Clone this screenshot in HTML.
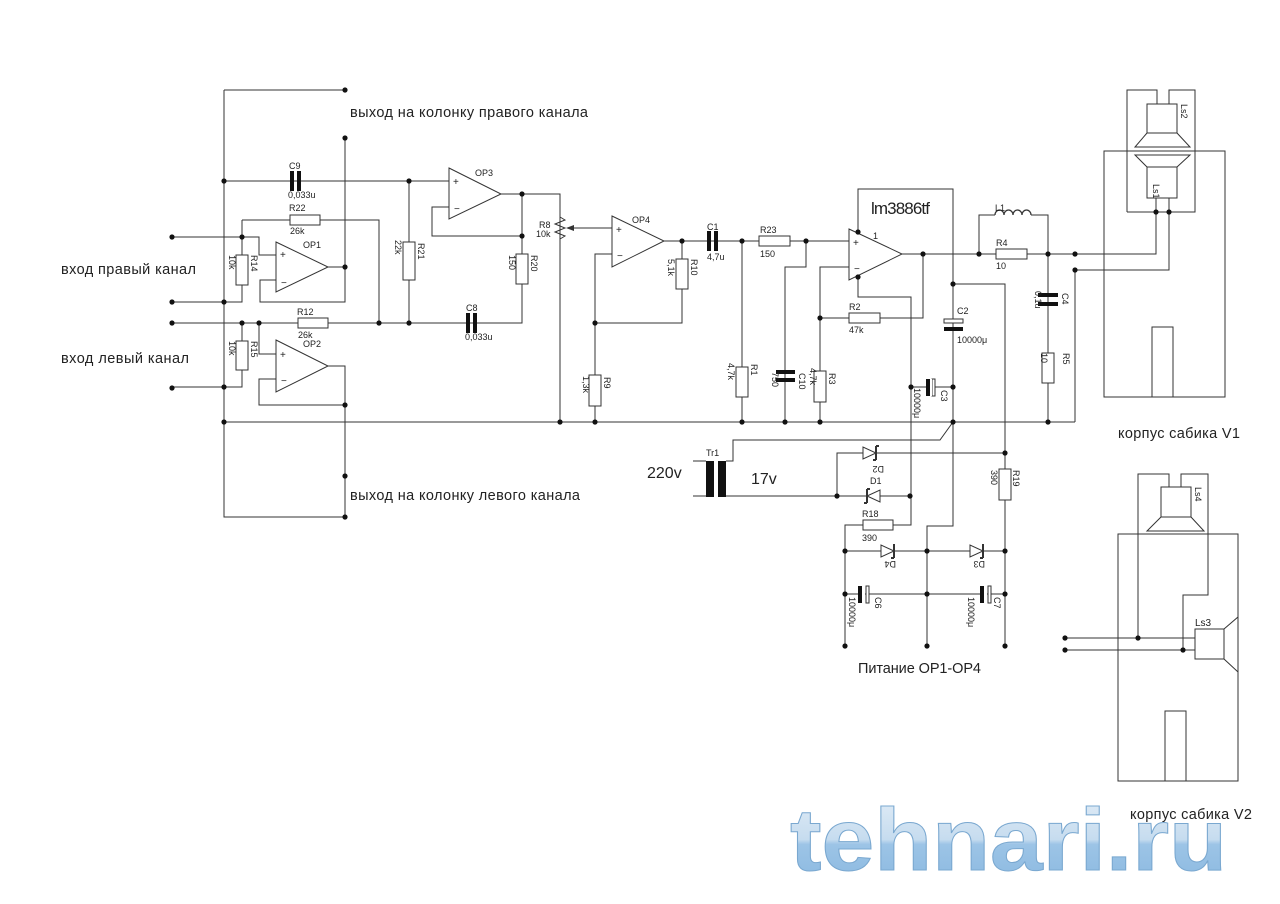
<!DOCTYPE html>
<html><head><meta charset="utf-8"><style>
html,body{margin:0;padding:0;background:#fff;}
svg{display:block;}
text{font-family:"Liberation Sans",sans-serif;fill:#222;}
.s{font-size:9px;}
</style></head><body>
<svg width="1280" height="904" viewBox="0 0 1280 904" xmlns="http://www.w3.org/2000/svg">
<defs>
<linearGradient id="lg" x1="0" y1="0" x2="0" y2="1">
<stop offset="0" stop-color="#e4eef7"/><stop offset="0.5" stop-color="#c6dcef"/><stop offset="0.55" stop-color="#9cc4e6"/><stop offset="1" stop-color="#8ab8e0"/>
</linearGradient>
</defs>
<g stroke="#333" stroke-width="1" fill="none">
<!-- left bus -->
<path d="M224,90 V517 H345 M224,90 H345 M345,138 V302 H260 V280 H276 M172,237 H259 V255 H276 M242,220 H379 V323 M242,220 V255 M242,285 V302 H172"/>
<path d="M172,323 H522 V284 M242,323 V341 M242,370 V387 H172 M259,323 V354 H276 M276,379 H259 V405 H345 M328,366 H345 V517 M328,267 H345"/>
<path d="M224,181 H449 M409,181 V242 M409,280 V323 M224,422 H1075"/>
<!-- OP3 -->
<path d="M449,207 H432 V236 H522 V254 M501,194 H560 V422 M522,194 V236"/>
<!-- OP4 -->
<path d="M570,228 H612 M612,254 H595 V375 M595,406 V422 M595,323 H682 V289 M682,259 V241 M664,241 H849"/>
<path d="M742,241 V367 M742,397 V422 M806,241 V267 H785 V422 M849,267 H820 V422"/>
<path d="M820,318 H849 M880,318 H923 V254 M902,254 H1075"/>
<path d="M858,232 V189 H953 V422 L940,440 H733 V461 H726 M858,277 V297 H911 V525 H893 M863,525 H845 V646"/>
<path d="M953,284 H1005 V646 M911,387 H926 M934,387 H953"/>
<!-- L1 / R4 -->
<path d="M979,254 V215 H995 M1031,215 H1048 V422 M1075,270 V422"/>
<path d="M995,215 a4.5,5 0 0 1 9,0 a4.5,5 0 0 1 9,0 a4.5,5 0 0 1 9,0 a4.5,5 0 0 1 9,0" stroke-width="1.3"/>
<!-- transformer -->
<path d="M693,461 H706 M693,496 H706 M726,496 H910 M837,496 V453 H1005"/>
<path d="M722,462 V496" stroke-dasharray="3,2"/>
<!-- power section -->
<path d="M845,551 H1005 M845,594 H1005 M953,422 V526 H927 V646"/>
<!-- R8 zigzag -->
<path d="M560,217 l5,3 l-10,4 l10,4 l-10,4 l10,4 l-5,3" fill="none"/>
<!-- speaker V1 -->
<path d="M1127,212 V90 H1157 V104 M1169,104 V90 H1195 V212 H1127"/>
<rect x="1104" y="151" width="121" height="246"/>
<rect x="1147" y="104" width="30" height="29"/>
<path d="M1147,133 L1135,147 H1190 L1177,133"/>
<path d="M1135,155 H1190 L1177,167 H1147 Z"/>
<rect x="1147" y="167" width="30" height="31"/>
<path d="M1156,198 V254 H1075 M1169,198 V270 H1075"/>
<rect x="1152" y="327" width="21" height="70"/>
<!-- speaker V2 -->
<rect x="1118" y="534" width="120" height="247"/>
<path d="M1138,638 V474 H1169 V487 M1181,487 V474 H1208 V595 H1183 V650"/>
<rect x="1161" y="487" width="30" height="30"/>
<path d="M1161,517 L1147,531 H1204 L1191,517"/>
<rect x="1195" y="629" width="29" height="30"/>
<path d="M1224,629 L1238,617 V672 L1224,659"/>
<path d="M1065,638 H1195 M1065,650 H1195"/>
<rect x="1165" y="711" width="21" height="70"/>
</g>
<!-- opamps -->
<g stroke="#333" fill="#fff">
<path d="M276,242 L328,267 L276,292 Z"/>
<path d="M276,340 L328,366 L276,392 Z"/>
<path d="M449,168 L501,194 L449,219 Z"/>
<path d="M612,216 L664,241 L612,267 Z"/>
<path d="M849,229 L902,254 L849,280 Z"/>
<!-- resistors -->
<rect x="290" y="215" width="30" height="10"/>
<rect x="298" y="318" width="30" height="10"/>
<rect x="236" y="255" width="12" height="30"/>
<rect x="236" y="341" width="12" height="29"/>
<rect x="403" y="242" width="12" height="38"/>
<rect x="516" y="254" width="12" height="30"/>
<rect x="676" y="259" width="12" height="30"/>
<rect x="589" y="375" width="12" height="31"/>
<rect x="759" y="236" width="31" height="10"/>
<rect x="736" y="367" width="12" height="30"/>
<rect x="814" y="371" width="12" height="31"/>
<rect x="849" y="313" width="31" height="10"/>
<rect x="996" y="249" width="31" height="10"/>
<rect x="1042" y="353" width="12" height="30"/>
<rect x="863" y="520" width="30" height="10"/>
<rect x="999" y="469" width="12" height="31"/>
</g>
<!-- capacitors -->
<g fill="#111">
<rect x="290" y="171" width="4" height="20"/><rect x="297" y="171" width="4" height="20"/>
<rect x="466" y="313" width="4" height="20"/><rect x="473" y="313" width="4" height="20"/>
<rect x="707" y="231" width="4" height="20"/><rect x="714" y="231" width="4" height="20"/>
<rect x="776" y="370" width="19" height="4"/><rect x="776" y="378" width="19" height="4"/>
<rect x="1038" y="293" width="20" height="4"/><rect x="1038" y="302" width="20" height="4"/>
<rect x="944" y="327" width="19" height="4"/>
<rect x="926" y="379" width="4" height="17"/>
<rect x="858" y="586" width="4" height="17"/>
<rect x="980" y="586" width="4" height="17"/>
</g>
<g fill="#fff" stroke="#333">
<rect x="944" y="319" width="19" height="4"/>
<rect x="932" y="379" width="3" height="17"/>
<rect x="866" y="586" width="3" height="17"/>
<rect x="988" y="586" width="3" height="17"/>
</g>
<g fill="#fff"><rect x="862" y="586" width="3" height="17"/><rect x="984" y="586" width="3" height="17"/><rect x="930" y="379" width="2" height="17"/></g>
<!-- transformer core -->
<rect x="706" y="461" width="8" height="36" fill="#111"/>
<rect x="726" y="461" width="8" height="36" fill="#111" transform="translate(-8,0)"/>
<!-- diodes -->
<g stroke="#333" fill="#fff">
<path d="M863,447 V459 L876,453 Z"/><path d="M876,446 V460 M876,446 h3 M876,460 h-3" fill="none" stroke-width="2"/>
<path d="M880,490 V502 L867,496 Z"/><path d="M867,489 V503 M867,489 h3 M867,503 h-3" fill="none" stroke-width="2"/>
<path d="M881,545 V557 L894,551 Z"/><path d="M894,544 V558 M894,558 h-3" fill="none" stroke-width="2"/>
<path d="M970,545 V557 L983,551 Z"/><path d="M983,544 V558 M983,558 h-3" fill="none" stroke-width="2"/>
</g>
<!-- arrow wiper -->
<path d="M566,228 L574,225 L574,231 Z" fill="#333"/>
<!-- dots -->
<g fill="#111">
<circle cx="345" cy="90" r="2.6"/><circle cx="345" cy="138" r="2.6"/><circle cx="224" cy="181" r="2.6"/><circle cx="409" cy="181" r="2.6"/>
<circle cx="172" cy="237" r="2.6"/><circle cx="242" cy="237" r="2.6"/><circle cx="345" cy="267" r="2.6"/><circle cx="172" cy="302" r="2.6"/><circle cx="224" cy="302" r="2.6"/>
<circle cx="172" cy="323" r="2.6"/><circle cx="242" cy="323" r="2.6"/><circle cx="259" cy="323" r="2.6"/><circle cx="379" cy="323" r="2.6"/><circle cx="409" cy="323" r="2.6"/>
<circle cx="172" cy="388" r="2.6"/><circle cx="224" cy="387" r="2.6"/><circle cx="345" cy="405" r="2.6"/><circle cx="224" cy="422" r="2.6"/><circle cx="345" cy="476" r="2.6"/><circle cx="345" cy="517" r="2.6"/>
<circle cx="522" cy="194" r="2.6"/><circle cx="522" cy="236" r="2.6"/><circle cx="560" cy="422" r="2.6"/><circle cx="595" cy="323" r="2.6"/><circle cx="595" cy="422" r="2.6"/>
<circle cx="682" cy="241" r="2.6"/><circle cx="742" cy="241" r="2.6"/><circle cx="806" cy="241" r="2.6"/><circle cx="742" cy="422" r="2.6"/><circle cx="785" cy="422" r="2.6"/><circle cx="820" cy="422" r="2.6"/><circle cx="820" cy="318" r="2.6"/>
<circle cx="858" cy="232" r="2.6"/><circle cx="858" cy="277" r="2.6"/><circle cx="923" cy="254" r="2.6"/><circle cx="953" cy="284" r="2.6"/><circle cx="911" cy="387" r="2.6"/><circle cx="953" cy="387" r="2.6"/><circle cx="953" cy="422" r="2.6"/>
<circle cx="979" cy="254" r="2.6"/><circle cx="1048" cy="254" r="2.6"/><circle cx="1075" cy="254" r="2.6"/><circle cx="1075" cy="270" r="2.6"/><circle cx="1048" cy="422" r="2.6"/>
<circle cx="1156" cy="212" r="2.6"/><circle cx="1169" cy="212" r="2.6"/>
<circle cx="1005" cy="453" r="2.6"/><circle cx="837" cy="496" r="2.6"/><circle cx="910" cy="496" r="2.6"/>
<circle cx="845" cy="551" r="2.6"/><circle cx="927" cy="551" r="2.6"/><circle cx="1005" cy="551" r="2.6"/>
<circle cx="845" cy="594" r="2.6"/><circle cx="927" cy="594" r="2.6"/><circle cx="1005" cy="594" r="2.6"/>
<circle cx="845" cy="646" r="2.6"/><circle cx="927" cy="646" r="2.6"/><circle cx="1005" cy="646" r="2.6"/>
<circle cx="1065" cy="638" r="2.6"/><circle cx="1065" cy="650" r="2.6"/><circle cx="1138" cy="638" r="2.6"/><circle cx="1183" cy="650" r="2.6"/>
</g>
<!-- op signs -->
<g class="s" style="font-size:10px">
<text x="280" y="258">+</text><text x="281" y="286">−</text>
<text x="280" y="358">+</text><text x="281" y="384">−</text>
<text x="453" y="185">+</text><text x="454" y="212">−</text>
<text x="616" y="233">+</text><text x="617" y="259">−</text>
<text x="853" y="246">+</text><text x="854" y="272">−</text>
</g>
<!-- labels -->
<g class="s">
<text x="289" y="169">C9</text><text x="288" y="198">0,033u</text>
<text x="289" y="211">R22</text><text x="290" y="234">26k</text>
<text x="303" y="248">OP1</text><text x="303" y="347">OP2</text><text x="475" y="176">OP3</text><text x="632" y="223">OP4</text>
<text x="297" y="315">R12</text><text x="298" y="338">26k</text>
<text x="466" y="311">C8</text><text x="465" y="340">0,033u</text>
<text x="539" y="228">R8</text><text x="536" y="237">10k</text>
<text x="707" y="230">C1</text><text x="707" y="260">4,7u</text>
<text x="760" y="233">R23</text><text x="760" y="257">150</text>
<text x="849" y="310">R2</text><text x="849" y="333">47k</text>
<text x="957" y="314">C2</text><text x="957" y="343">10000μ</text>
<text x="995" y="211">L1</text><text x="996" y="246">R4</text><text x="996" y="269">10</text>
<text x="706" y="456">Tr1</text>
<text x="862" y="517">R18</text><text x="862" y="541">390</text>
<text x="870" y="484">D1</text>
<text x="1195" y="626" style="font-size:10px">Ls3</text>
<g transform="rotate(90)">
<text x="255" y="-251">R14</text><text x="255" y="-229">10k</text>
<text x="341" y="-251">R15</text><text x="341" y="-229">10k</text>
<text x="243" y="-418">R21</text><text x="240" y="-395">22k</text>
<text x="255" y="-531">R20</text><text x="255" y="-509">150</text>
<text x="259" y="-691">R10</text><text x="259" y="-668">5,1k</text>
<text x="377" y="-604">R9</text><text x="376" y="-583">1,3k</text>
<text x="364" y="-751">R1</text><text x="363" y="-728">4,7k</text>
<text x="373" y="-799">C10</text><text x="372" y="-772">750</text>
<text x="373" y="-829">R3</text><text x="368" y="-810">4,7k</text>
<text x="390" y="-941">C3</text><text x="388" y="-914">10000μ</text>
<text x="293" y="-1062">C4</text><text x="291" y="-1035">0,1u</text>
<text x="353" y="-1063">R5</text><text x="353" y="-1041">10</text>
<text x="470" y="-1013">R19</text><text x="470" y="-991">390</text>
<text x="597" y="-875">C6</text><text x="597" y="-849">10000μ</text>
<text x="597" y="-994">C7</text><text x="597" y="-968">10000μ</text>
<text x="104" y="-1181">Ls2</text><text x="184" y="-1153">Ls1</text>
<text x="487" y="-1195">Ls4</text>
</g>
<g transform="rotate(180 877 470)"><text x="870" y="474">D2</text></g>
<g transform="rotate(180 889 565)"><text x="882" y="569">D4</text></g>
<g transform="rotate(180 978 565)"><text x="971" y="569">D3</text></g>
<text x="873" y="239">1</text>
</g>
<text x="871" y="214" style="font-size:17px" textLength="59">lm3886tf</text>
<g style="font-size:14.5px">
<text x="350" y="117" textLength="238">выход на колонку правого канала</text>
<text x="350" y="500" textLength="230">выход на колонку левого канала</text>
<text x="61" y="274" textLength="135">вход правый канал</text>
<text x="61" y="363" textLength="128">вход левый канал</text>
<text x="858" y="673" textLength="123">Питание OP1-OP4</text>
<text x="1118" y="438" textLength="122">корпус сабика V1</text>
<text x="1130" y="819" textLength="122">корпус сабика V2</text>
</g>
<text x="647" y="478" style="font-size:16px">220v</text>
<text x="751" y="484" style="font-size:16px">17v</text>
<text x="790" y="870" style="font-size:88px;font-weight:bold;fill:url(#lg);stroke:#7aa8d0;stroke-width:1" textLength="437" lengthAdjust="spacingAndGlyphs">tehnari.ru</text>
</svg>
</body></html>
